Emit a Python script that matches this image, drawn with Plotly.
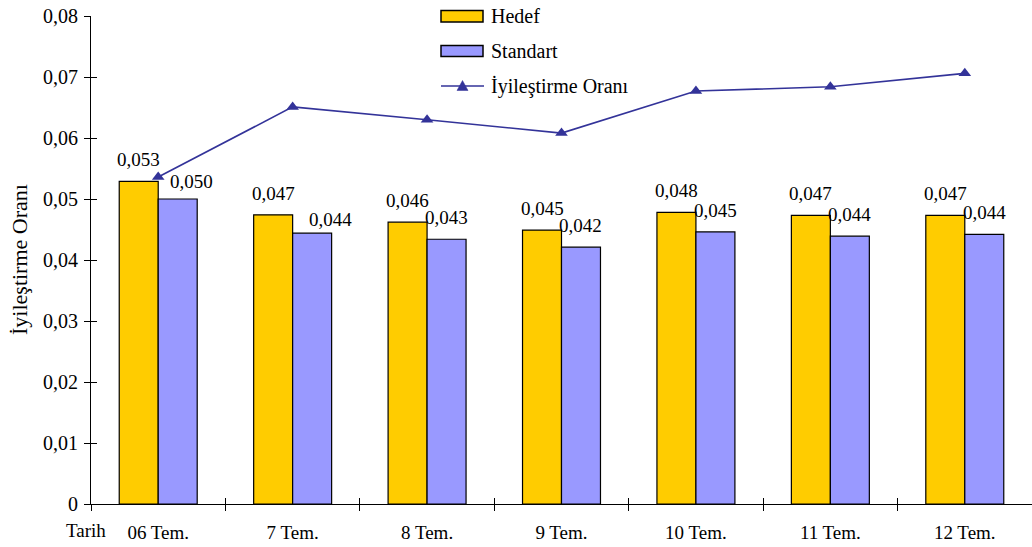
import plotly.graph_objects as go

# --- data -------------------------------------------------------------
tarih = ["06 Tem.", "7 Tem.", "8 Tem.", "9 Tem.", "10 Tem.", "11 Tem.", "12 Tem."]
hedef = [0.0529, 0.0474, 0.0462, 0.0449, 0.0478, 0.0473, 0.0473]
standart = [0.0500, 0.0444, 0.0434, 0.0421, 0.0446, 0.0439, 0.0442]
iyilestirme = [0.0536, 0.0651, 0.0630, 0.0608, 0.0677, 0.0684, 0.0706]
y_ticks = [0, 0.01, 0.02, 0.03, 0.04, 0.05, 0.06, 0.07, 0.08]

# --- styling ----------------------------------------------------------
FONT = "Liberation Serif"
GOLD = "#FFCC00"
LAVENDER = "#9999FF"
NAVY = "#333399"

W, H = 1032, 547
ML, MR, MT, MB = 91, 0, 16, 43
PW, PH = W - ML - MR, H - MT - MB
BARGAP = 0.42

# hand-placed "Standart" labels that were moved clear of the line (px dx, dy)
STD_LABEL_NUDGE = {0: (14, -4), 1: (18, -8)}


def fx(px):
    return (px - ML) / PW


def fy(py):
    return (H - MB - py) / PH


def num(v):
    return f"{v:.3f}".replace(".", ",")


def tick_text(v):
    return "0" if v == 0 else f"{v:.2f}".replace(".", ",")


fig = go.Figure()

fig.add_trace(go.Bar(
    name="Hedef", x=tarih, y=hedef,
    marker=dict(color=GOLD, line=dict(color="black", width=1.2)),
    hoverinfo="skip",
))
fig.add_trace(go.Bar(
    name="Standart", x=tarih, y=standart,
    marker=dict(color=LAVENDER, line=dict(color="black", width=1.2)),
    hoverinfo="skip",
))
fig.add_trace(go.Scatter(
    name="İyileştirme Oranı", x=tarih, y=iyilestirme,
    mode="lines+markers",
    line=dict(color=NAVY, width=1.6),
    marker=dict(symbol="triangle-up", size=11, color=NAVY),
    hoverinfo="skip", cliponaxis=False,
))

# invisible companion trace so the overlay axes (inner half of ticks) render
fig.add_trace(go.Scatter(
    x=tarih, y=hedef, xaxis="x2", yaxis="y2", mode="markers",
    marker=dict(opacity=0), showlegend=False, hoverinfo="skip",
))

# value labels above the bars
cat_px = PW / len(tarih)
bar_px = cat_px * (1 - BARGAP) / 2
for series, sign, nudges in ((hedef, -1, {}), (standart, 1, STD_LABEL_NUDGE)):
    for i, (cat, v) in enumerate(zip(tarih, series)):
        dx, dy = nudges.get(i, (0, 0))
        fig.add_annotation(
            x=cat, y=v, text=num(v), showarrow=False,
            xanchor="center", yanchor="bottom",
            xshift=sign * bar_px / 2 + dx, yshift=9 + dy,
            font=dict(family=FONT, size=19, color="black"),
        )

# legend drawn by hand: wide swatches like the original
lx0, lx1 = 441, 483
for (y0, y1), color in (((10.5, 22), GOLD), ((45.5, 56.5), LAVENDER)):
    fig.add_shape(type="rect", xref="paper", yref="paper",
                  x0=fx(lx0), x1=fx(lx1), y0=fy(y1), y1=fy(y0),
                  fillcolor=color, line=dict(color="black", width=1.5))
fig.add_shape(type="line", xref="paper", yref="paper",
              x0=fx(lx0), x1=fx(lx1 + 1), y0=fy(86), y1=fy(86),
              line=dict(color=NAVY, width=1.6))
cx, cy = (lx0 + lx1 + 1) / 2, 86
tri = [(cx - 5.5, cy + 4.5), (cx + 5.5, cy + 4.5), (cx, cy - 5.5)]
path = "M " + " L ".join(f"{fx(a)},{fy(b)}" for a, b in tri) + " Z"
fig.add_shape(type="path", xref="paper", yref="paper", path=path,
              fillcolor=NAVY, line=dict(color=NAVY, width=0.5))
for text, yc in (("Hedef", 16.5), ("Standart", 51), ("İyileştirme Oranı", 86)):
    fig.add_annotation(x=fx(489), y=fy(yc), xref="paper", yref="paper",
                       text=text, showarrow=False, xanchor="left", yanchor="middle",
                       font=dict(family=FONT, size=20, color="black"))

# axis titles
fig.add_annotation(x=fx(19), y=0.5, xref="paper", yref="paper",
                   text="İyileştirme Oranı", textangle=-90, showarrow=False,
                   xanchor="center", yanchor="middle",
                   font=dict(family=FONT, size=22, color="black"))
fig.add_annotation(x=fx(85.5), y=fy(530), xref="paper", yref="paper",
                   text="Tarih", showarrow=False, xanchor="center", yanchor="middle",
                   font=dict(family=FONT, size=19, color="black"))

axis_common = dict(showgrid=False, zeroline=False, linecolor="black", linewidth=1,
                   tickcolor="black", tickwidth=1, ticklen=6)

fig.update_layout(
    width=W, height=H,
    margin=dict(l=ML, r=MR, t=MT, b=MB, pad=0),
    paper_bgcolor="white", plot_bgcolor="white",
    barmode="group", bargap=BARGAP, bargroupgap=0,
    showlegend=False,
    separators=",.",
    font=dict(family=FONT, size=19, color="black"),
    xaxis=dict(**axis_common, type="category", categoryorder="array",
               categoryarray=tarih, tickson="boundaries", ticks="outside",
               showline=True, tickfont=dict(family=FONT, size=19),
               ticklabelstandoff=11,
               range=[-0.5, len(tarih) - 0.5]),
    yaxis=dict(**axis_common, range=[0, 0.08], tickvals=y_ticks,
               ticktext=[tick_text(v) for v in y_ticks], ticks="outside",
               showline=True, tickfont=dict(family=FONT, size=20),
               ticklabelstandoff=2),
    xaxis2=dict(**axis_common, overlaying="x", anchor="y2", type="category",
                categoryorder="array", categoryarray=tarih,
                tickson="boundaries", ticks="inside", showline=False,
                showticklabels=False, range=[-0.5, len(tarih) - 0.5]),
    yaxis2=dict(**axis_common, overlaying="y", anchor="x2", range=[0, 0.08],
                tickvals=y_ticks, ticks="inside", showline=False,
                showticklabels=False),
)

fig.write_html("out.html")
